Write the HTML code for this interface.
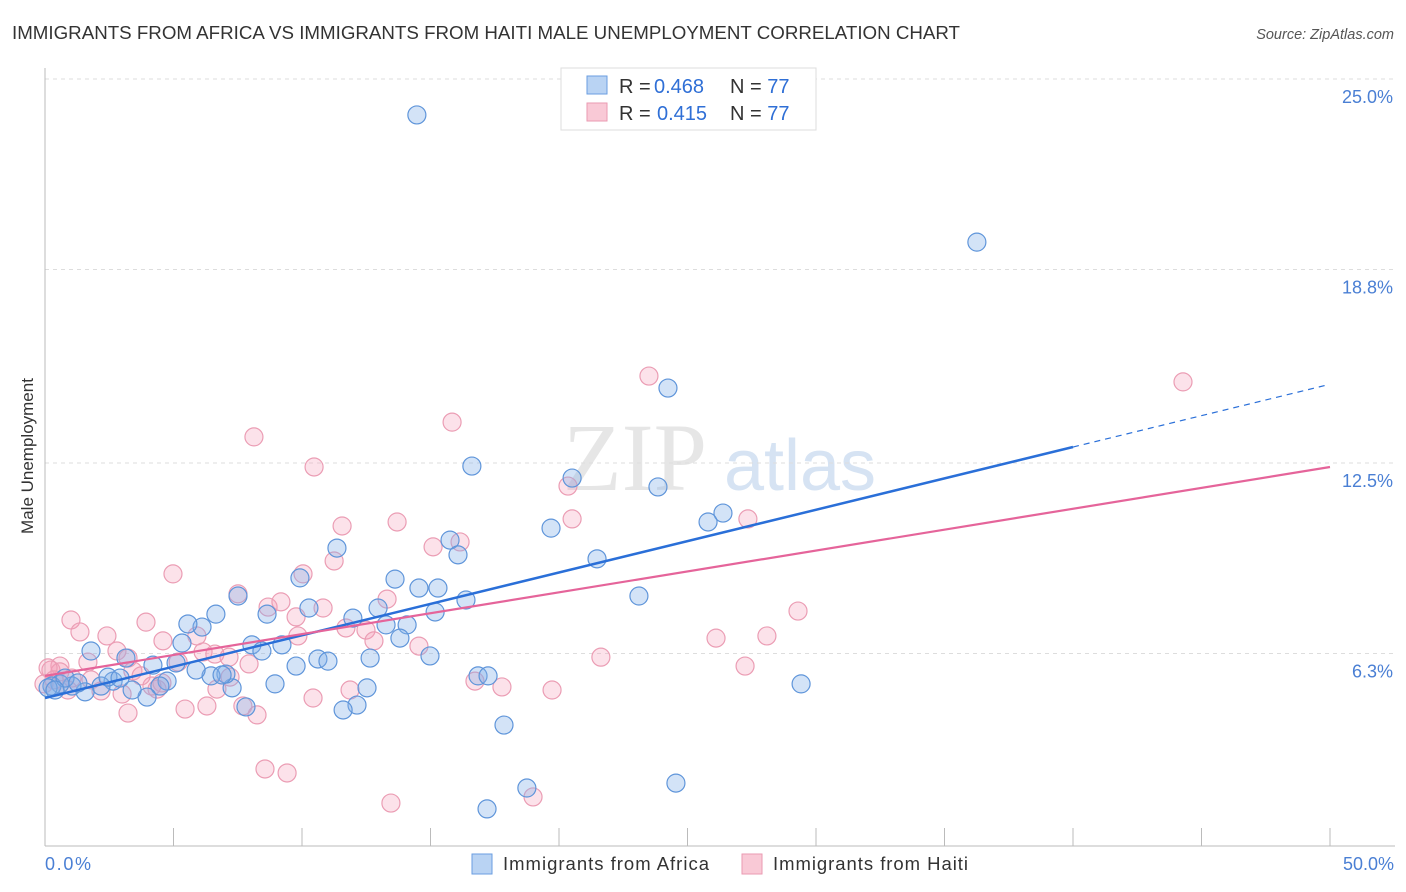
<!DOCTYPE html>
<html><head><meta charset="utf-8"><style>
body{margin:0;background:#fff;font-family:"Liberation Sans",sans-serif}
svg{display:block}
</style></head><body>
<svg id="c" width="1406" height="892">
<text x="12" y="39" font-size="18" fill="#333" textLength="948" lengthAdjust="spacingAndGlyphs">IMMIGRANTS FROM AFRICA VS IMMIGRANTS FROM HAITI MALE UNEMPLOYMENT CORRELATION CHART</text>
<text x="1394" y="39" font-size="14.5" fill="#555" font-style="italic" text-anchor="end">Source: ZipAtlas.com</text>
<text x="635" y="490" font-size="96" fill="#e6e6e6" font-family="Liberation Serif" text-anchor="middle">ZIP</text>
<text x="800" y="490" font-size="72" fill="#d6e3f3" text-anchor="middle">atlas</text>
<text transform="translate(33,456) rotate(-90)" font-size="17" fill="#333" text-anchor="middle">Male Unemployment</text>
<g id="grid"></g><g id="pts"></g><g id="lines"></g>
<rect x="561" y="68" width="255" height="62" fill="#fff" stroke="#ddd"/>
<rect x="587" y="76" width="20" height="18" fill="#b9d3f3" stroke="#6a9ee0"/>
<rect x="587" y="103" width="20" height="18" fill="#f9c9d6" stroke="#ea9ab2"/>
<text x="619" y="93" font-size="20" fill="#333">R = <tspan x="654" fill="#2f6fd6">0.468</tspan><tspan x="730">N = </tspan><tspan fill="#2f6fd6">77</tspan></text>
<text x="619" y="120" font-size="20" fill="#333">R = <tspan x="657" fill="#2f6fd6">0.415</tspan><tspan x="730">N = </tspan><tspan fill="#2f6fd6">77</tspan></text>
<text x="45" y="870" font-size="18" fill="#4a7fd4" textLength="46">0.0%</text>
<text x="1394" y="870" font-size="18" fill="#4a7fd4" text-anchor="end">50.0%</text>
<rect x="472" y="854" width="20" height="20" fill="#b9d3f3" stroke="#6a9ee0"/>
<text x="503" y="870" font-size="18.5" fill="#333" textLength="206">Immigrants from Africa</text>
<rect x="742" y="854" width="20" height="20" fill="#f9c9d6" stroke="#ea9ab2"/>
<text x="773" y="870" font-size="18.5" fill="#333" textLength="195">Immigrants from Haiti</text>
</svg>
<script>
const yTicks=[25,18.8,12.5,6.3];
const yTickLabels=["25.0%","18.8%","12.5%","6.3%"];
const bluePx=[[417,115],[977,242],[668,388],[472,466],[572,478],[658,487],[551,528],[723,513],[708,522],[597,559],[450,540],[458,555],[337,548],[639,596],[801,684],[504,725],[676,783],[487,809],[527,788],[300,578],[395,579],[419,588],[438,588],[466,600],[435,612],[407,625],[378,608],[353,618],[386,625],[400,638],[309,608],[267,614],[238,596],[216,614],[202,627],[188,624],[182,643],[153,665],[126,658],[91,651],[252,645],[282,645],[296,666],[318,659],[328,661],[370,658],[430,656],[478,676],[488,676],[367,688],[357,705],[343,710],[275,684],[232,688],[246,707],[226,674],[211,676],[196,670],[167,681],[160,686],[147,697],[132,690],[113,681],[101,686],[85,692],[72,686],[60,684],[52,686],[48,688],[65,678],[108,677],[222,675],[176,663],[120,678],[78,683],[55,690],[262,651]];
const pinkPx=[[649,376],[1183,382],[452,422],[254,437],[314,467],[568,486],[572,519],[397,522],[342,526],[748,519],[460,542],[433,547],[334,561],[173,574],[303,574],[238,594],[268,607],[281,602],[323,608],[387,599],[296,617],[798,611],[716,638],[767,636],[146,622],[71,620],[80,632],[107,636],[163,641],[197,636],[215,654],[203,652],[298,636],[346,628],[366,630],[419,646],[374,641],[601,657],[745,666],[117,651],[128,658],[178,662],[229,657],[249,664],[60,666],[51,670],[88,662],[133,671],[157,689],[152,686],[217,689],[230,677],[101,691],[122,694],[185,709],[207,706],[128,713],[243,706],[257,715],[313,698],[350,690],[475,681],[502,687],[552,690],[265,769],[287,773],[391,803],[533,797],[60,672],[48,668],[72,678],[91,680],[141,676],[162,683],[54,680],[68,690],[44,684]];
const africaX=bluePx.map(p=>+((p[0]-45)/25.7).toFixed(2));
const africaY=bluePx.map(p=>+(25-(p[1]-79)/30.72).toFixed(2));
const haitiX=pinkPx.map(p=>+((p[0]-45)/25.7).toFixed(2));
const haitiY=pinkPx.map(p=>+(25-(p[1]-79)/30.72).toFixed(2));
const africaTrend=[4.85,13.02];const africaTrendEndX=40;
const haitiTrend=[5.57,12.37];
const NS="http://www.w3.org/2000/svg";
const sx=v=>45+v*25.7, sy=v=>79+(25-v)*30.72;
function mk(tag,attrs,parent){const e=document.createElementNS(NS,tag);for(const k in attrs)e.setAttribute(k,attrs[k]);parent.appendChild(e);return e;}
const grid=document.getElementById('grid');
yTicks.forEach((t,i)=>{
 const l=mk('line',{x1:45,x2:1395,y1:sy(t),y2:sy(t),stroke:'#ddd','stroke-dasharray':'4,4'},grid);
 
 
 const tx=mk('text',{x:1393,y:sy(t)+24,'font-size':18,fill:'#4a7fd4','text-anchor':'end'},grid);
 tx.textContent=yTickLabels[i];
 
 
});
const ax=mk('line',{x1:45,x2:45,y1:68,y2:846,stroke:'#bbb'},grid);


const bx=mk('line',{x1:45,x2:1395,y1:846,y2:846,stroke:'#bbb'},grid);


for(let i=0;i<=10;i++){const t=mk('line',{x1:sx(i*5),x2:sx(i*5),y1:828,y2:846,stroke:'#bbb'},grid);
 
 }
const pts=document.getElementById('pts');
function draw(X,Y,fill,stroke,name){X.forEach((x,i)=>{const c=mk('circle',{cx:sx(x),cy:sy(Y[i]),r:9,fill:fill,stroke:stroke,'stroke-width':1.2},pts);
 
 });}
draw(haitiX,haitiY,'rgba(244,160,185,0.3)','#eb9db4','haiti-point');
draw(africaX,africaY,'rgba(130,175,232,0.35)','#5f95da','africa-point');
const lines=document.getElementById('lines');
const slope=(africaTrend[1]-africaTrend[0])/africaTrendEndX;
const b1=mk('line',{x1:sx(0),y1:sy(africaTrend[0]),x2:sx(africaTrendEndX),y2:sy(africaTrend[1]),stroke:'#2a6fd8','stroke-width':2.5},lines);


const b2=mk('line',{x1:sx(africaTrendEndX),y1:sy(africaTrend[1]),x2:sx(49.9),y2:sy(africaTrend[0]+slope*49.9),stroke:'#2a6fd8','stroke-width':1.2,'stroke-dasharray':'6,5'},lines);


const p1=mk('line',{x1:sx(0),y1:sy(haitiTrend[0]),x2:sx(50),y2:sy(haitiTrend[1]),stroke:'#e5649a','stroke-width':2.2},lines);


</script>
</body></html>
